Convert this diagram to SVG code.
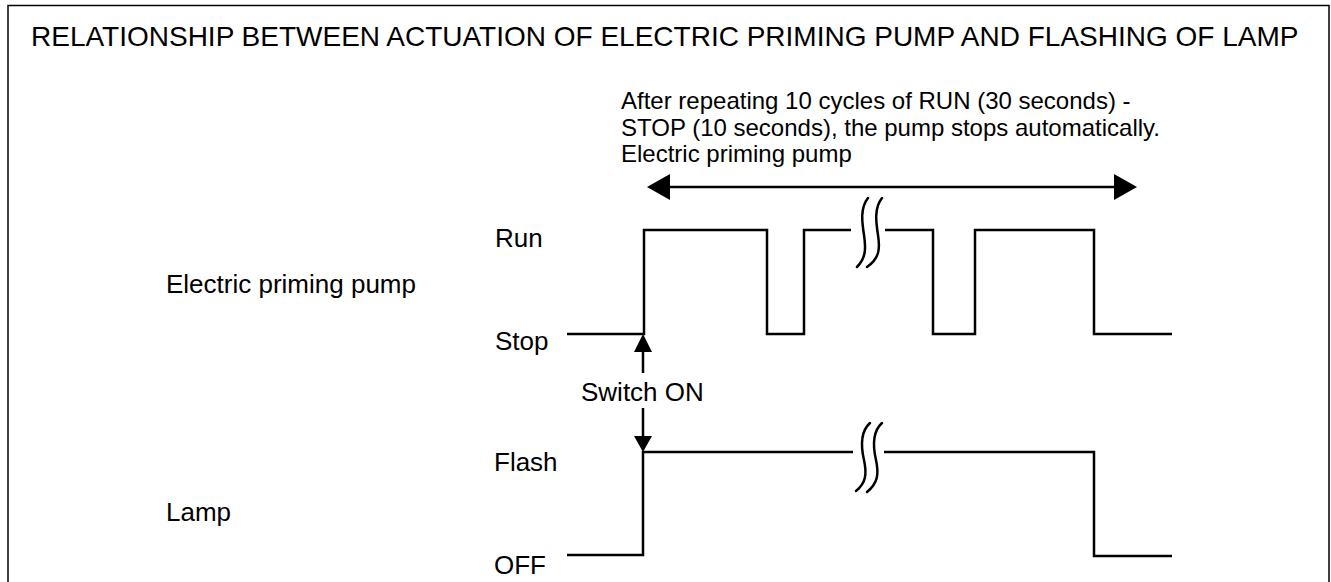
<svg xmlns="http://www.w3.org/2000/svg" width="1331" height="582" viewBox="0 0 1331 582">
<style>
text{font-family:"Liberation Sans",Arial,sans-serif;fill:#000}
.t{font-size:28px}
.n{font-size:24px}
.lb{font-size:26px}
.l{fill:none;stroke:#000;stroke-width:2.5;stroke-linejoin:miter}
.b{fill:none;stroke:#000;stroke-width:2.5;stroke-linecap:round}
</style>
<rect width="1331" height="582" fill="#fff"/>
<path d="M8,582 V5.5 H1329 V582" fill="none" stroke="#000" stroke-width="1.5"/>
<g id="title"><text class="t" x="31" y="46">RELATIONSHIP BETWEEN ACTUATION OF ELECTRIC PRIMING PUMP AND FLASHING OF LAMP</text></g>
<g id="note">
<text class="n" x="621" y="109">After repeating 10 cycles of RUN (30 seconds) -</text>
<text class="n" x="621" y="136">STOP (10 seconds), the pump stops automatically.</text>
<text class="n" x="621" y="162">Electric priming pump</text>
</g>
<g id="pump-label"><text class="lb" x="166" y="293">Electric priming pump</text></g>
<g id="lamp-label"><text class="lb" x="166" y="521">Lamp</text></g>
<g id="levels">
<text class="lb" x="495" y="247">Run</text>
<text class="lb" x="495" y="350">Stop</text>
<text class="lb" x="494" y="471">Flash</text>
<text class="lb" x="494" y="574">OFF</text>
</g>
<g id="switch-label"><text class="lb" x="581" y="401">Switch ON</text></g>
<g id="pump-wave">
<path class="l" d="M567,334 H644 V230 H767 V334 H804 V230 H851 M885,230 H933 V334 H975 V230 H1094 V334 H1172"/>
<path class="b" d="M868,198 C860,208 862,222 864,235 C866,248 866,258 857,267"/>
<path class="b" d="M882,198 C874,208 876,222 878,235 C880,248 880,258 867,267"/>
</g>
<g id="lamp-wave">
<path class="l" d="M567,555 H643 V452 H853 M884,452 H1094 V556 H1172"/>
<path class="b" d="M870,423 C860,432 861,447 864,460 C867,474 866,483 856,491"/>
<path class="b" d="M882,423 C872,432 873,447 876,460 C879,474 878,483 867,492"/>
</g>
<g id="connectors">
<line class="l" x1="670" y1="187" x2="1114" y2="187"/>
<path d="M647,187 L670,174 L670,200 Z" fill="#000"/>
<path d="M1137,187 L1114,174 L1114,200 Z" fill="#000"/>
<line class="l" x1="643" y1="373" x2="643" y2="352"/>
<path d="M643,334 L634,352 L652,352 Z" fill="#000"/>
<line class="l" x1="643" y1="408" x2="643" y2="437"/>
<path d="M643,452 L634,436 L652,436 Z" fill="#000"/>
</g>
</svg>
